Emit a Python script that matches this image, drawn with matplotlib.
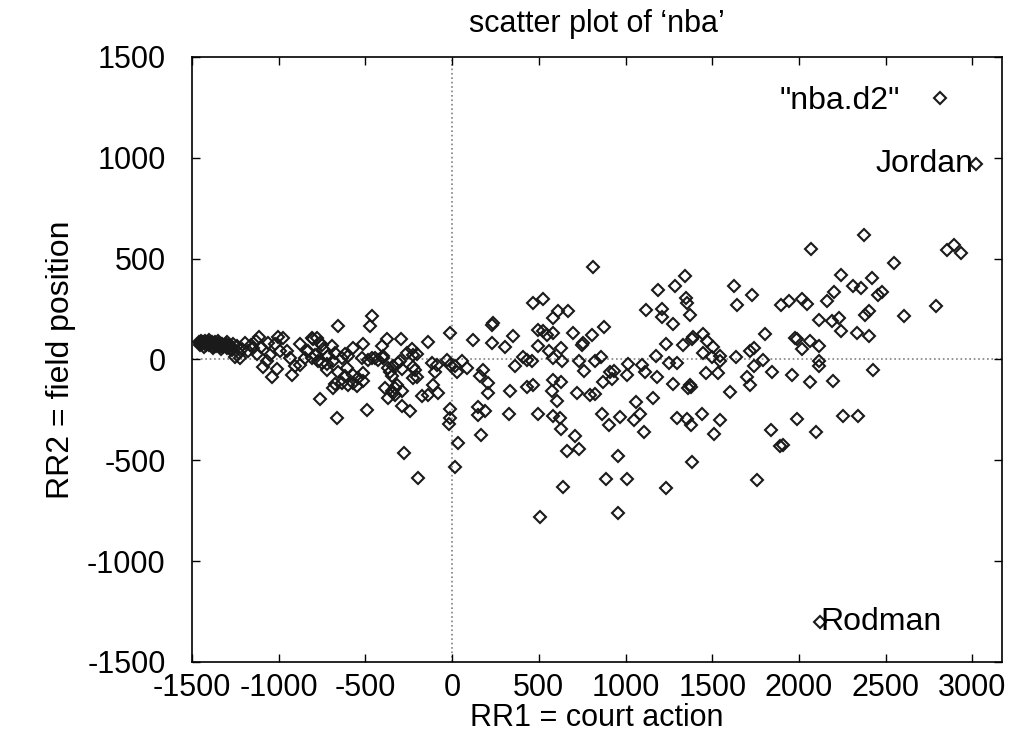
import matplotlib
matplotlib.use("Agg")
import matplotlib.pyplot as plt

plt.rcParams['font.family'] = ['Liberation Sans', 'DejaVu Sans']
plt.rcParams['axes.unicode_minus'] = False

# (RR1, RR2) pairs
# dense cluster on the far left
blob_pts = [(-1460, 85), (-1450, 80), (-1445, 90), (-1440, 75), (-1435, 85), (-1430, 80),
            (-1425, 90), (-1420, 72), (-1415, 85), (-1410, 78), (-1405, 88), (-1400, 70),
            (-1395, 82), (-1390, 76), (-1385, 86), (-1380, 68), (-1375, 80), (-1370, 74),
            (-1365, 84), (-1360, 66), (-1355, 78), (-1350, 70), (-1345, 82), (-1340, 64),
            (-1335, 76), (-1330, 68), (-1325, 78), (-1320, 60), (-1315, 72), (-1310, 64),
            (-1305, 74), (-1300, 58), (-1295, 68), (-1290, 60), (-1285, 70), (-1280, 54),
            (-1275, 64), (-1455, 70), (-1430, 62), (-1400, 95), (-1380, 55), (-1350, 92),
            (-1330, 50), (-1300, 85), (-1270, 45), (-1265, 75)]

left_pts = [(-1251, 10), (-1242, 64), (-1223, 6), (-1194, 81), (-1176, 40), (-1147, 56),
            (-1126, 25), (-1111, 109), (-1088, -40), (-1069, -10), (-1040, -89), (-1021, 74),
            (-1011, -50), (-1002, 109), (-992, 40), (-973, 106), (-953, 40), (-934, 6),
            (-924, -79), (-905, -35), (-877, 74), (-877, -27), (-848, 6), (-838, 40), (-829, 40),
            (-1230, 30), (-1210, 50), (-1160, 70), (-1130, 90), (-1100, 60), (-1060, 80),
            (-1050, 20), (-809, 106), (-800, 99), (-780, 106), (-761, 81), (-752, 72),
            (-742, 50), (-809, 6), (-790, 23), (-771, -10), (-752, -18), (-723, -25),
            (-723, -51), (-713, 15), (-694, 64), (-684, -10), (-675, 31), (-656, 168),
            (-636, 6), (-656, -60), (-617, -84), (-675, -124), (-684, -142), (-636, -118),
            (-617, 25), (-607, -43), (-598, 15), (-598, -126), (-569, 56), (-569, -76),
            (-569, -118), (-550, -134), (-540, -93), (-520, 6), (-511, 76), (-511, -68),
            (-511, -109), (-482, -2), (-473, 164), (-463, 213), (-463, 6), (-444, 6),
            (-425, -2), (-405, 64), (-396, 6), (-396, 15), (-377, 99), (-367, -43),
            (-358, -60), (-348, -84), (-338, -35), (-300, -10), (-309, -18), (-294, 101),
            (-290, -50), (-261, 31), (-232, 50), (-223, 23), (-204, 25), (-223, -40),
            (-213, -51), (-204, -89), (-223, -93), (-386, -142), (-319, -126), (-329, -142),
            (-348, -159), (-338, -167), (-329, -176), (-367, -192), (-290, -159), (-175, -180),
            (-137, -176), (-79, -167), (-108, -126), (-98, -60), (-117, -18), (-88, -27),
            (-140, 86), (-761, -197), (-665, -291), (-492, -253), (-290, -233), (-242, -255),
            (-277, -466), (-198, -589)]

mid_pts = [(-12, 131), (-31, -2), (-12, -27), (17, -35), (31, -60), (56, -10), (85, -43),
           (123, 98), (-12, -248), (-12, -291), (-15, -321), (36, -412), (17, -531),
           (229, 81), (238, 180), (228, 172), (181, -51), (161, -84), (209, -118), (209, -167),
           (152, -238), (190, -258), (152, -275), (165, -377), (306, 61), (354, 114), (363, -35),
           (411, 10), (431, -2), (460, -10), (334, -159), (431, -139), (469, -126), (330, -270),
           (465, 279), (527, 301), (498, 147), (527, 139), (546, 122), (584, 131), (584, 205),
           (613, 241), (671, 241), (498, 64), (556, 40), (627, 56), (584, 6), (635, -10),
           (584, -101), (630, -111), (575, -159), (604, -208), (584, -283), (623, -288),
           (498, -270), (629, -344), (663, -456), (638, -635), (507, -779),
           (815, 456), (873, 159), (806, 119), (696, 131), (748, 72), (755, 80), (732, -7),
           (825, -7), (858, 10), (761, -56), (911, -60), (934, -56), (869, -113), (921, -96),
           (1007, -79), (1017, -23), (1094, -30), (1113, -60), (1184, -89), (1176, 15),
           (1119, 246), (1186, 346), (1209, 251), (1209, 208), (1286, 362), (1344, 412),
           (1350, 304), (1357, 279), (1373, 218), (1276, 175), (1234, 78), (1334, 72),
           (1382, 102), (1390, 110), (1446, 125), (1469, 89), (1504, 60), (1449, 31),
           (1498, 10), (1546, 15), (1542, -10), (1536, -68), (1465, -68), (1248, -18),
           (1296, -18), (1273, -121), (1373, -126), (1359, -142), (1380, -135), (1161, -192),
           (1061, -212), (863, -270), (969, -285), (1084, -271), (1050, -300), (1294, -288),
           (1353, -293), (1440, -273), (1542, -302), (723, -167), (796, -176), (825, -172),
           (907, -324), (1107, -360), (1377, -324), (1511, -370), (709, -382), (732, -445),
           (959, -481), (1386, -509), (886, -592), (1007, -592), (1234, -637), (955, -759)]

right_pts = [(1603, -164), (1626, 362), (1728, 317), (1645, 268), (1805, 125), (1738, 56),
             (1719, 43), (1636, 10), (1790, -2), (1741, -35), (1846, -60), (1703, -89),
             (1719, -126), (1837, -349), (1757, -597),
             (2372, 615), (2068, 547), (2853, 541), (2895, 569), (2934, 527), (2545, 478),
             (2242, 420), (2420, 403), (2311, 366), (2357, 354), (2203, 334), (2164, 291),
             (2453, 317), (2478, 334), (2017, 301), (2046, 274), (1940, 291), (1896, 268),
             (2791, 263), (2607, 213), (2401, 241), (2382, 221), (2118, 193), (2190, 188),
             (2228, 205), (2242, 139), (2334, 131), (2405, 117), (1978, 106), (1991, 102),
             (2065, 89), (2118, 64), (2020, 51), (2113, -10), (2113, -35), (1959, -76),
             (2065, -113), (2199, -106), (2426, -51), (1991, -295), (2253, -280), (2338, -283),
             (2099, -362), (1892, -431), (1905, -425)]

# labelled players
players = ['Jordan', 'Rodman']
player_rr1 = [3020, 2120]
player_rr2 = [970, -1300]

all_pts = blob_pts + left_pts + mid_pts + right_pts
rr1 = [p[0] for p in all_pts] + player_rr1
rr2 = [p[1] for p in all_pts] + player_rr2

xticks = [-1500, -1000, -500, 0, 500, 1000, 1500, 2000, 2500, 3000]
yticks = [-1500, -1000, -500, 0, 500, 1000, 1500]

fs = 22

fig = plt.figure(figsize=(10.1, 7.38), dpi=100)
ax = fig.add_axes([0.190, 0.103, 0.802, 0.820])

ax.axhline(0, color='grey', linestyle=':', linewidth=1.2, zorder=1)
ax.axvline(0, color='grey', linestyle=':', linewidth=1.2, zorder=1)

ax.plot(rr1, rr2, linestyle='none', marker='D', markersize=6.3, markerfacecolor='none',
        markeredgecolor='#1a1a1a', markeredgewidth=1.5, label='"nba.d2"', zorder=3)

ax.text(player_rr1[0] - 15, player_rr2[0], players[0], ha='right', va='center', fontsize=fs + 1)
ax.text(player_rr1[1] + 5, player_rr2[1], players[1], ha='left', va='center', fontsize=fs + 1)

ax.set_xlim(-1500, 3170)
ax.set_ylim(-1500, 1500)
ax.set_xticks(xticks)
ax.set_yticks(yticks)
ax.tick_params(direction='in', length=6, width=1, top=True, right=True, labelsize=fs)
ax.tick_params(axis='y', pad=19)
ax.tick_params(axis='x', pad=8)
for s in ax.spines.values():
    s.set_linewidth(1.2)

ax.set_xlabel('RR1 = court action', fontsize=fs, labelpad=0)
ax.set_ylabel('RR2 = field position', fontsize=fs + 1, labelpad=8)
ax.set_title('scatter plot of \u2018nba\u2019', fontsize=fs, pad=18)

ax.legend(loc='upper right', bbox_to_anchor=(0.935, 0.952), frameon=False, markerfirst=False,
          fontsize=fs + 1, handlelength=0.6, handletextpad=0.95, borderpad=0, borderaxespad=0)

fig.savefig('out.png', dpi=100)
